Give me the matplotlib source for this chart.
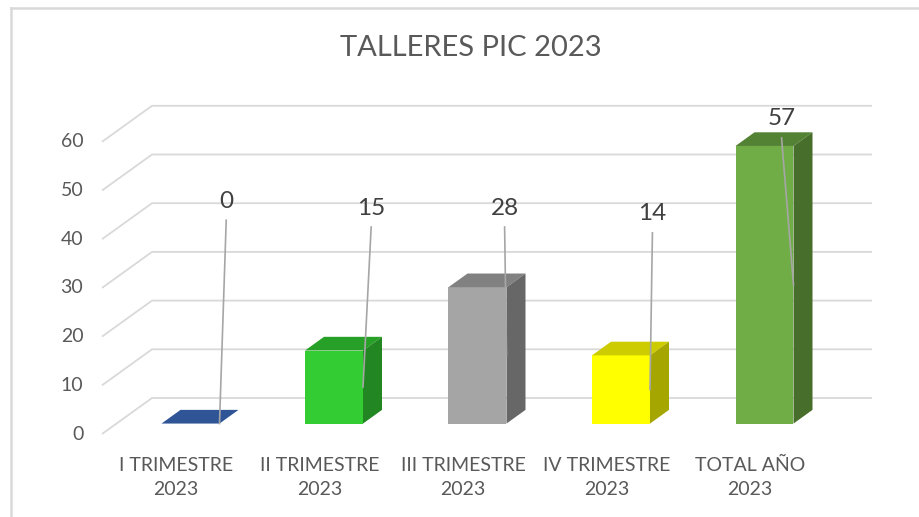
import matplotlib
matplotlib.use("Agg")
import matplotlib.pyplot as plt

plt.rcParams['font.family'] = ['Lato', 'DejaVu Sans']

# data
categorias = ["I TRIMESTRE\n2023", "II TRIMESTRE\n2023", "III TRIMESTRE\n2023",
              "IV TRIMESTRE\n2023", "TOTAL AÑO\n2023"]
talleres = [0, 15, 28, 14, 57]
ticks_y = [0, 10, 20, 30, 40, 50, 60]

# colours per bar: front, top, side
col_front = ["#2F5597", "#33CC33", "#A5A5A5", "#FFFF00", "#70AD47"]
col_top = ["#2F5597", "#27A027", "#818181", "#CCCC00", "#548235"]
col_side = ["#24427A", "#228622", "#676767", "#A6A600", "#476E2B"]

# where Excel left the data labels (offset in x, value height)
label_dx = [0.35, 0.36, 0.29, 0.32, 0.22]
label_v = [47.8, 46.4, 46.4, 45.2, 64.7]

# layout of the fake 3d box (pixel scales of the 920x517 picture)
W, H = 920, 517
PX_X = 143.5      # px per category
PX_V = 4.87       # px per unit of value
X0 = 176          # px of first category on front plane
V0 = 434          # px (from top) of value 0 on front plane
DX = 50 / PX_X    # depth of floor, x
DV = 36 / PX_V    # depth of floor, value
x_left = (102 - X0) / PX_X
x_right = (822 - X0) / PX_X
bar_w = 58 / PX_X
bar_z = 0.29      # front face of bars (fraction of depth)
bar_d = 0.38      # depth of bars (fraction of depth)

fig = plt.figure(figsize=(W / 100, H / 100), dpi=100)
ax = fig.add_axes([0, 0, 1, 1])
ax.set_xlim(-X0 / PX_X, (W - X0) / PX_X)
ax.set_ylim((V0 - H) / PX_V, V0 / PX_V)
ax.axis("off")

# chart frame (top + left visible)
fig.add_artist(plt.Line2D([11 / W, 11 / W], [0, 1 - 8 / H], color="#d9d9d9", lw=1.8))
fig.add_artist(plt.Line2D([11 / W, 1], [1 - 8 / H, 1 - 8 / H], color="#d9d9d9", lw=1.8))

# grid lines: floor diagonal + back wall
for t in ticks_y:
    ax.plot([x_left, x_left + DX, x_right + DX], [t, t + DV, t + DV],
            color="#d9d9d9", lw=1.3, zorder=1, solid_capstyle="butt")
    ax.text(x_left - 0.13, t, str(t), ha="right", va="center",
            fontsize=14, color="#595959")

for i, v in enumerate(talleres):
    xl = i + bar_z * DX - bar_w / 2
    xr = xl + bar_w
    b = bar_z * DV
    t = b + v
    ddx = bar_d * DX
    ddv = bar_d * DV
    ax.fill([xl, xr, xr, xl], [b, b, t, t], color=col_front[i], zorder=2, lw=0)
    ax.fill([xl, xr, xr + ddx, xl + ddx], [t, t, t + ddv, t + ddv],
            color=col_top[i], zorder=2, lw=0)
    ax.fill([xr, xr + ddx, xr + ddx, xr], [b, b + ddv, t + ddv, t],
            color=col_side[i], zorder=2, lw=0)

    # data label with leader line
    lx = i + label_dx[i]
    ax.text(lx, label_v[i], str(v), ha="center", va="center",
            fontsize=17.5, color="#404040", zorder=4)
    ax.plot([lx, xr], [label_v[i] - 3.9, b + v / 2],
            color="#a6a6a6", lw=1.2, zorder=3)

    ax.text(i, -9.0, categorias[i], ha="center", va="center",
            fontsize=14, color="#595959", linespacing=1.5)

fig.text(471 / W, 1 - 48 / H, "TALLERES PIC 2023", ha="center", va="center",
         fontsize=21, color="#595959")

plt.savefig("out.png", dpi=100)
